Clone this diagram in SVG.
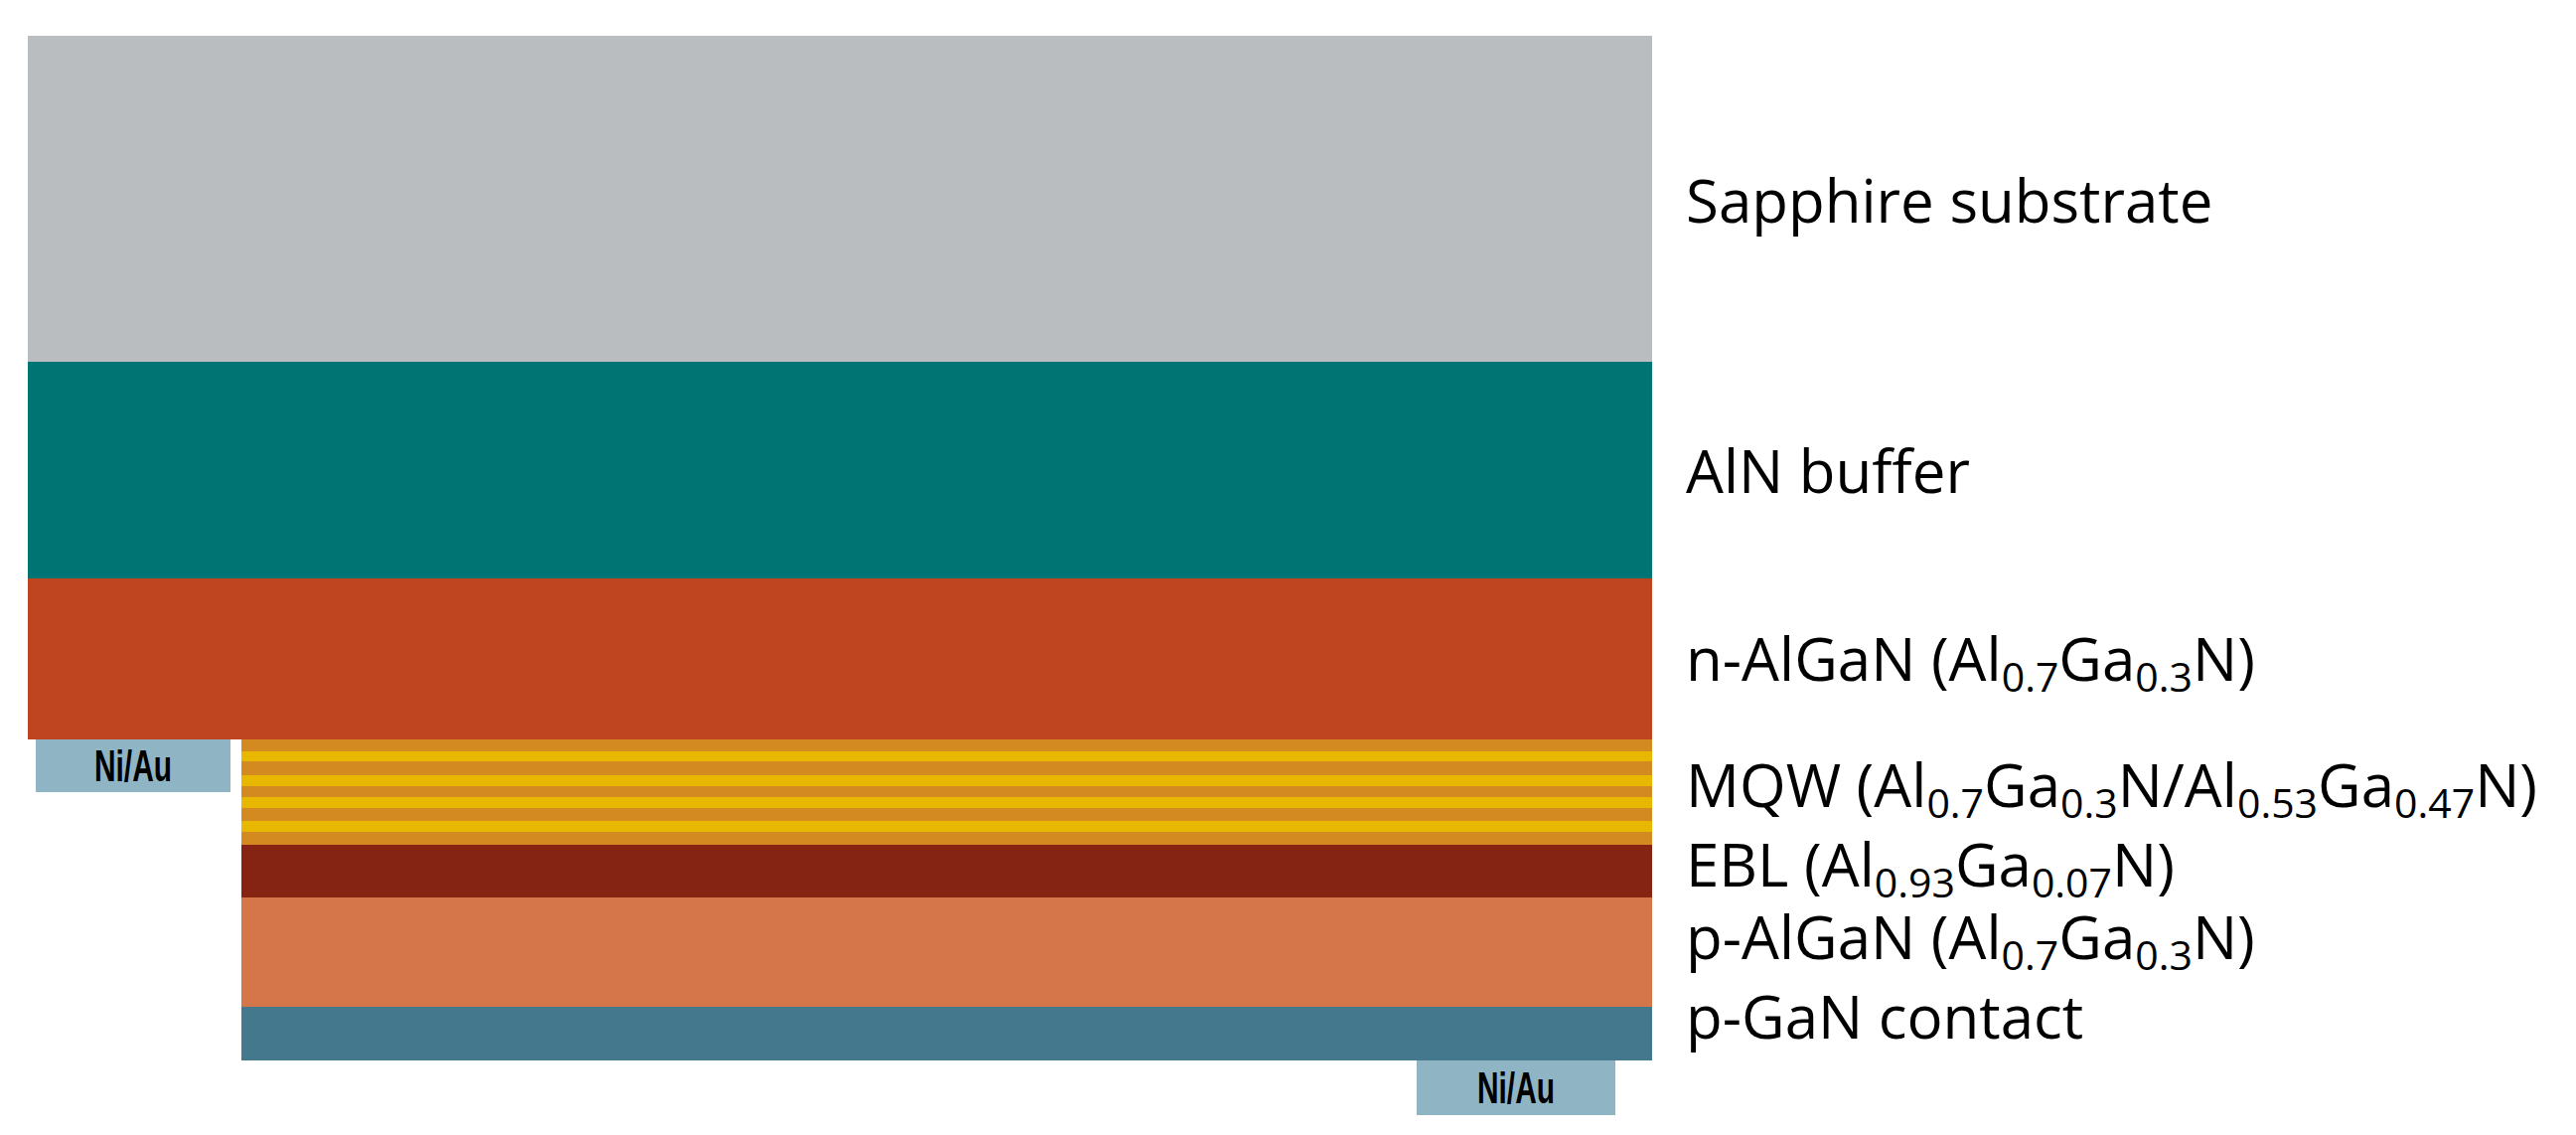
<svg xmlns="http://www.w3.org/2000/svg" width="2593" height="1142" viewBox="0 0 2593 1142">
<style>
.lbl{font-family:"Open Sans","Liberation Sans",sans-serif;font-size:60px;fill:#000}
.sub{font-size:41px}
.ni{font-family:"Liberation Sans",sans-serif;font-weight:bold;font-size:44px;fill:#000;text-anchor:middle}
.o{fill:#D38B21}.y{fill:#E8B800}
</style>
<rect width="2593" height="1142" fill="#fff"/>
<g id="sapphire"><rect x="28" y="36" width="1635" height="328" fill="#B9BDC0"/><text class="lbl" x="1697" y="224">Sapphire substrate</text></g>
<g id="aln"><rect x="28" y="364" width="1635" height="218" fill="#007473"/><text class="lbl" x="1697" y="496">AlN buffer</text></g>
<g id="nalgan"><rect x="28" y="582" width="1635" height="162" fill="#BF4520"/><text class="lbl" x="1697" y="685">n-AlGaN (Al<tspan class="sub" dy="11">0.7</tspan><tspan dy="-11">Ga</tspan><tspan class="sub" dy="11">0.3</tspan><tspan dy="-11">N)</tspan></text></g>
<g id="mqw">
<rect class="o" x="243" y="744" width="1420" height="106"/>
<rect class="y" x="243" y="756" width="1420" height="10"/>
<rect class="y" x="243" y="780" width="1420" height="11"/>
<rect class="y" x="243" y="802" width="1420" height="11"/>
<rect class="y" x="243" y="826" width="1420" height="11"/>
<text class="lbl" x="1697" y="812">MQW (Al<tspan class="sub" dy="11">0.7</tspan><tspan dy="-11">Ga</tspan><tspan class="sub" dy="11">0.3</tspan><tspan dy="-11">N/Al</tspan><tspan class="sub" dy="11">0.53</tspan><tspan dy="-11">Ga</tspan><tspan class="sub" dy="11">0.47</tspan><tspan dy="-11">N)</tspan></text></g>
<g id="ebl"><rect x="243" y="850" width="1420" height="53" fill="#852412"/><text class="lbl" x="1697" y="892">EBL (Al<tspan class="sub" dy="11">0.93</tspan><tspan dy="-11">Ga</tspan><tspan class="sub" dy="11">0.07</tspan><tspan dy="-11">N)</tspan></text></g>
<g id="palgan"><rect x="243" y="903" width="1420" height="110" fill="#D5764A"/><text class="lbl" x="1697" y="965">p-AlGaN (Al<tspan class="sub" dy="11">0.7</tspan><tspan dy="-11">Ga</tspan><tspan class="sub" dy="11">0.3</tspan><tspan dy="-11">N)</tspan></text></g>
<g id="pgan"><rect x="243" y="1013" width="1420" height="54" fill="#44788D"/><text class="lbl" x="1697" y="1045">p-GaN contact</text></g>
<g id="contact-n"><rect x="36" y="744" width="196" height="53" fill="#8FB5C4"/><text class="ni" transform="translate(134 786) scale(0.68 1)">Ni/Au</text></g>
<g id="contact-p"><rect x="1426" y="1067" width="200" height="55" fill="#8FB5C4"/><text class="ni" transform="translate(1526 1110) scale(0.68 1)">Ni/Au</text></g>
<g id="connectors"/>
</svg>
